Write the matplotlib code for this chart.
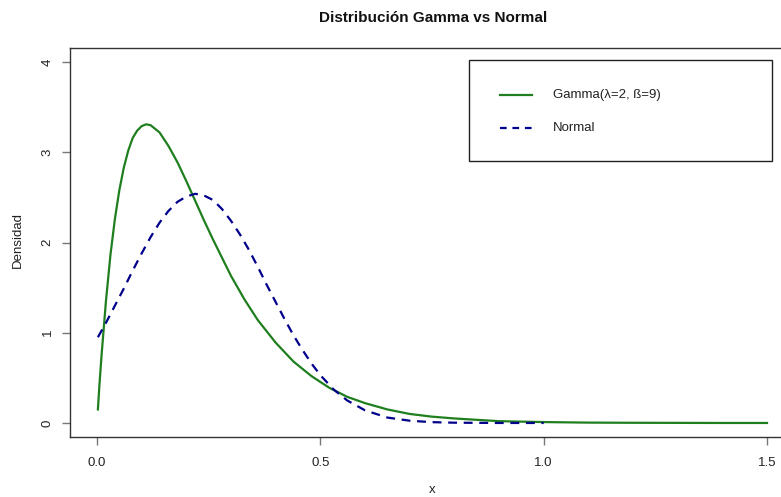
# gamma(2, 9) density vs the normal with the same mean/sd, R-style base plot look

import matplotlib.pyplot as plt
from matplotlib.patches import Rectangle

# values
x_gamma = [0.002, 0.005, 0.01, 0.02, 0.03, 0.04, 0.05, 0.06, 0.07, 0.08, 0.09, 0.10,
           0.11, 0.12, 0.14, 0.16, 0.18, 0.20, 0.22, 0.24, 0.26, 0.28, 0.30, 0.33,
           0.36, 0.40, 0.44, 0.48, 0.52, 0.56, 0.60, 0.65, 0.70, 0.75, 0.80, 0.90,
           1.00, 1.10, 1.20, 1.30, 1.40, 1.50]
y_gamma = [0.15, 0.39, 0.74, 1.35, 1.86, 2.26, 2.58, 2.83, 3.02, 3.16, 3.24, 3.29,
           3.31, 3.30, 3.22, 3.07, 2.89, 2.68, 2.46, 2.24, 2.03, 1.83, 1.63, 1.37,
           1.14, 0.89, 0.68, 0.52, 0.39, 0.29, 0.22, 0.15, 0.10, 0.07, 0.05, 0.02,
           0.01, 0.004, 0.002, 0.001, 0.0, 0.0]

x_norm = [0.002, 0.02, 0.04, 0.06, 0.08, 0.10, 0.12, 0.14, 0.16, 0.18, 0.20, 0.22,
          0.24, 0.26, 0.28, 0.30, 0.32, 0.34, 0.36, 0.38, 0.40, 0.42, 0.44, 0.46,
          0.48, 0.50, 0.53, 0.56, 0.60, 0.65, 0.70, 0.75, 0.80, 0.90, 1.00]
y_norm = [0.95, 1.11, 1.30, 1.49, 1.69, 1.88, 2.06, 2.22, 2.35, 2.45, 2.51, 2.54,
          2.52, 2.47, 2.37, 2.24, 2.09, 1.92, 1.73, 1.53, 1.34, 1.15, 0.97, 0.81,
          0.66, 0.53, 0.37, 0.25, 0.14, 0.06, 0.025, 0.009, 0.003, 0.0, 0.0]

x_ticks = [0.0, 0.5, 1.0, 1.5]
y_ticks = [0, 1, 2, 3, 4]
labels = ["Gamma(\u03bb=2, \u00df=9)", "Normal"]

plt.rcParams["font.family"] = ["Liberation Sans", "DejaVu Sans"]

fig = plt.figure(figsize=(7.81, 4.97), dpi=100)
ax = fig.add_axes([0.0899, 0.1199, 0.9265, 0.7843])

green = "#1f7f1f"
blue = "#00008B"
ax.plot(x_gamma, y_gamma, color=green, lw=1.6)
ax.plot(x_norm, y_norm, color=blue, lw=1.6, dashes=(4, 3))

ax.set_xlim(-0.06, 1.56)
ax.set_ylim(-0.16, 4.16)
ax.set_xticks(x_ticks)
ax.set_xticklabels(["0.0", "0.5", "1.0", "1.5"])
ax.set_yticks(y_ticks)
ax.set_yticklabels([str(v) for v in y_ticks], rotation=90, va="center")
ax.tick_params(length=6, width=1, color="#777777", labelsize=9.5, labelcolor="#222222", pad=8)
ax.tick_params(axis="y", pad=6)
for s in ax.spines.values():
    s.set_color("#333333")
    s.set_linewidth(1)

fig.text(432 / 781, 1 - 490 / 497, "x", ha="center", va="center", fontsize=9.5, color="#222222")
fig.text(18 / 781, 1 - 240 / 497, "Densidad", ha="center", va="center", rotation=90,
         fontsize=9.5, color="#222222")
fig.text(433 / 781, 1 - 18 / 497, "Distribución Gamma vs Normal", ha="center", va="center",
         fontsize=11, fontweight="bold", color="#111111")

# legend box drawn by hand to get the R layout
ax.add_patch(Rectangle((0.551, 0.709), 0.419, 0.259, transform=ax.transAxes,
                       fill=False, edgecolor="#222222", lw=1))
ax.plot([0.594, 0.638], [0.878, 0.878], transform=ax.transAxes, color=green, lw=1.6)
ax.plot([0.594, 0.638], [0.794, 0.794], transform=ax.transAxes, color=blue, lw=1.6, dashes=(3, 2.6))
ax.text(0.667, 0.878, labels[0], transform=ax.transAxes, va="center", fontsize=9.5, color="#222222")
ax.text(0.667, 0.794, labels[1], transform=ax.transAxes, va="center", fontsize=9.5, color="#222222")

plt.savefig("out.png", dpi=100)
